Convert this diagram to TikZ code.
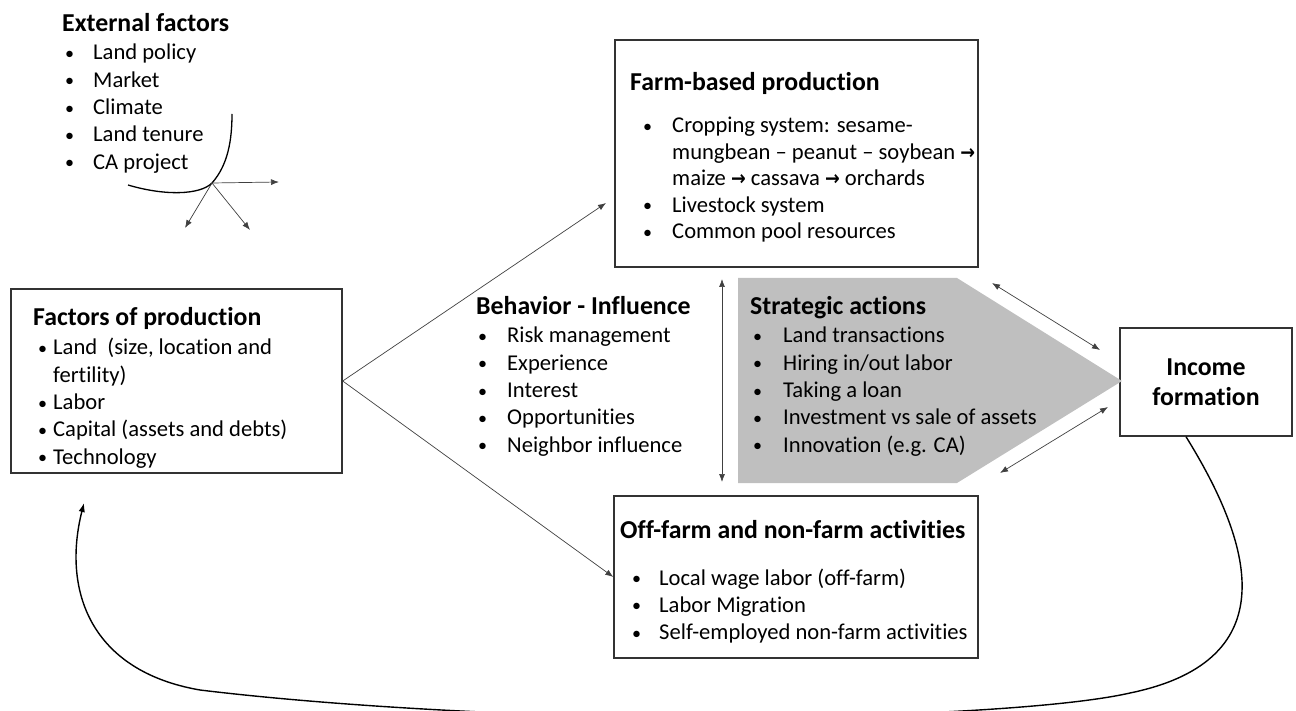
\documentclass[tikz,border=0pt]{standalone}
\usepackage{graphicx}
\usepackage{fontspec}
\setmainfont{Carlito}[Ligatures=NoCommon]
\newfontfamily\symfont{DejaVu Sans}
\usetikzlibrary{arrows.meta}
\newcommand{\blt}[1]{\makebox[#1][l]{\raisebox{0.5pt}{\scalebox{0.8}{\textbullet}}}}
\newcommand{\rarr}{\scalebox{0.78}[0.9]{\symfont\bfseries →}}
\tikzset{
  box/.style={draw=black!80, line width=1.4pt, inner sep=0pt},
  head/.style={anchor=base west, inner sep=0pt, font=\fontsize{25.8}{30}\selectfont\bfseries},
  item/.style={anchor=base west, inner sep=0pt, font=\fontsize{22.6}{27}\selectfont},
  link/.style={draw=black!75, line width=0.7pt, -{Latex[length=8pt,width=6pt]}},
  twoway/.style={link, {Latex[length=8pt,width=6pt]}-{Latex[length=8pt,width=6pt]}},
}
\begin{document}
\begin{tikzpicture}[x=1pt,y=-1pt]
\useasboundingbox (0,0) rectangle (1296,711);
\clip (0,0) rectangle (1296,711);

% boxes
\node[box, minimum width=331, minimum height=184] (fact) at (176.5,381) {};
\node[box, minimum width=363, minimum height=227] (farm) at (796.5,153.5) {};
\node[box, minimum width=364, minimum height=162] (off) at (796,577) {};
\node[box, minimum width=172, minimum height=108, align=center,
      font=\fontsize{25.8}{30}\selectfont\bfseries] (inc) at (1206,382) {Income\\formation};

% strategic actions arrow shape
\coordinate (s1) at (738,278);
\coordinate (s2) at (957,278);
\coordinate (s3) at (1122,381);
\coordinate (s4) at (957,483);
\coordinate (s5) at (738,483);
\fill[black!25] (s1) -- (s2) -- (s3) -- (s4) -- (s5) -- cycle;

% external factors
\node[head] (exthead) at (62,32) {External factors};
\foreach \txt [count=\i from 0] in {Land policy, Market, Climate, Land tenure, CA project}
  \node[item] (ext\i) at (65,60+27.3*\i) {\blt{28pt}\txt};
\coordinate (pivot) at (212,183);
\draw[line width=1.3pt] (128,185) .. controls (165,196) and (200,195) .. (pivot)
  .. controls (228,165) and (232,140) .. (232,114);
\coordinate (ext1end) at (279,182);
\coordinate (ext2end) at (185,228);
\coordinate (ext3end) at (250,230);
\draw[link] (pivot) -- (ext1end);
\draw[link] (pivot) -- (ext2end);
\draw[link] (pivot) -- (ext3end);

% factors of production
\node[head] (facthead) at (33,326) {Factors of production};
\node[item] (fact0) at (38,355) {\blt{15pt}Land\ \ (size, location and};
\node[item] (fact1) at (53,382.3) {fertility)};
\node[item] (fact2) at (38,409.6) {\blt{15pt}Labor};
\node[item] (fact3) at (38,436.9) {\blt{15pt}Capital (assets and debts)};
\node[item] (fact4) at (38,464.2) {\blt{15pt}Technology};

% farm-based production
\node[head] (farmhead) at (630,91) {Farm-based production};
\node[item] (farm0) at (643,133) {\blt{29pt}Cropping system: sesame-};
\node[item] (farm1) at (672,159.4) {mungbean – peanut – soybean \rarr};
\node[item] (farm2) at (672,185.8) {maize \rarr{} cassava \rarr{} orchards};
\node[item] (farm3) at (643,212.2) {\blt{29pt}Livestock system};
\node[item] (farm4) at (643,238.6) {\blt{29pt}Common pool resources};

% behavior - influence
\node[head] (behhead) at (476,315) {Behavior - Influence};
\foreach \txt [count=\i from 0] in {Risk management, Experience, Interest, Opportunities, Neighbor influence}
  \node[item] (beh\i) at (478,343+27.3*\i) {\blt{29pt}\txt};

% strategic actions
\node[head] (strhead) at (750,315) {Strategic actions};
\foreach \txt [count=\i from 0] in {Land transactions, Hiring in/out labor, Taking a loan, Investment vs sale of assets, Innovation (e.g. CA)}
  \node[item] (str\i) at (753,343+27.3*\i) {\blt{30pt}\txt};

% off-farm and non-farm activities
\node[head] (offhead) at (620,538) {Off-farm and non-farm activities};
\foreach \txt [count=\i from 0] in {Local wage labor (off-farm), Labor Migration, Self-employed non-farm activities}
  \node[item] (off\i) at (632,585+27.3*\i) {\blt{27pt}\txt};

% connectors
\coordinate (farmin) at (606,203);
\draw[link] (fact.east) -- (farmin);
\draw[link] (fact.east) -- (off.west);
\coordinate (vtop) at (722,279);
\coordinate (vbot) at (722,482);
\draw[twoway] (vtop) -- (vbot);
\coordinate (upA) at (992,283);
\coordinate (upB) at (1100,350);
\draw[twoway] (upA) -- (upB);
\coordinate (loA) at (1000,473);
\coordinate (loB) at (1108,407);
\draw[twoway] (loA) -- (loB);

% feedback loop
\coordinate (factback) at (84,503);
\draw[line width=1.4pt, -{Latex[length=9pt,width=6.5pt]}] ([xshift=-20pt]inc.south)
  .. controls (1250,540) and (1290,660) .. (1130,693)
  .. controls (1060,709) and (880,717.5) .. (710,717.5)
  .. controls (540,717.5) and (340,707) .. (200,690)
  .. controls (90,671) and (62,590) .. (factback);
\end{tikzpicture}
\end{document}
